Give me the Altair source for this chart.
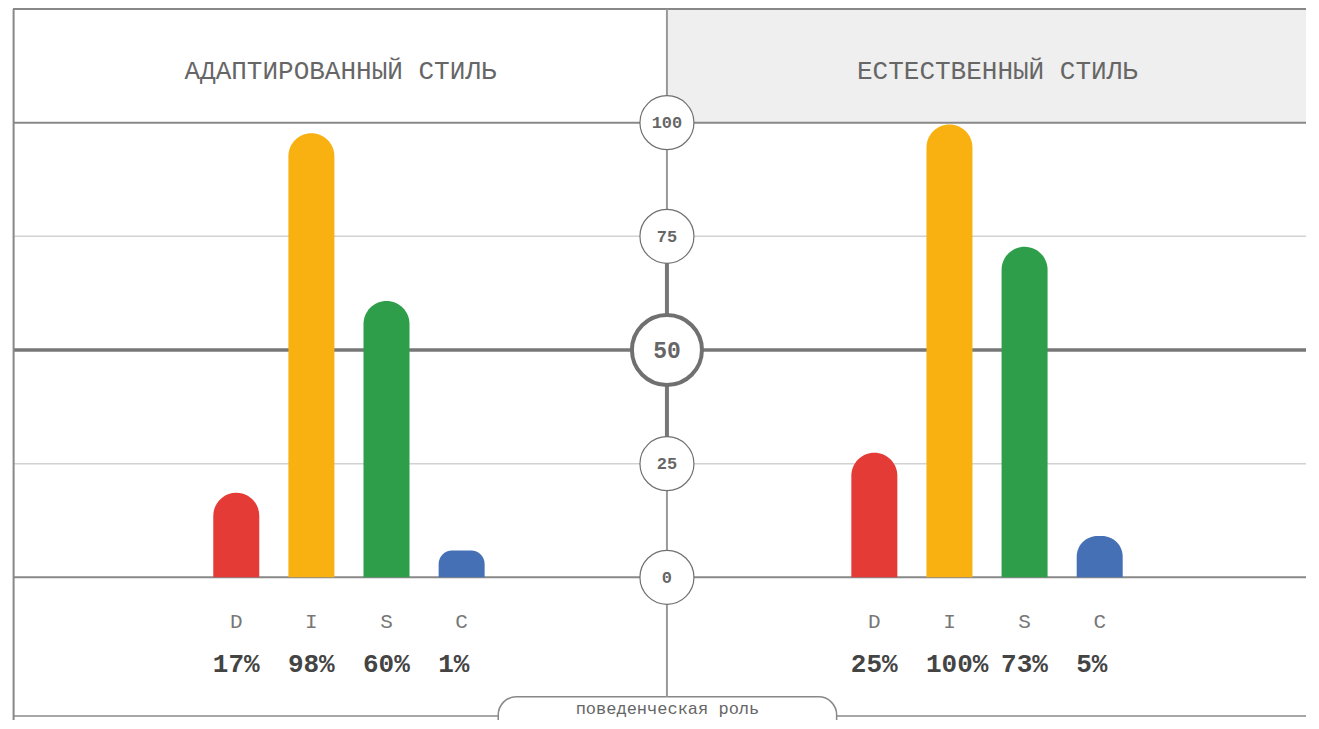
import altair as alt
import pandas as pd

# ---------------- data ----------------
letters = ["D", "I", "S", "C"]
adapted_pct = [17, 98, 60, 1]
natural_pct = [25, 100, 73, 5]
# bar heights as drawn in the picture (scale 0..100)
adapted_bar = [18.6, 97.7, 60.8, 5.9]
natural_bar = [27.4, 99.6, 72.7, 9.1]
disc_colors = ["#E53B37", "#F9B111", "#2E9E4A", "#4570B5"]
scale_ticks = [0, 25, 50, 75, 100]
panel_titles = ["АДАПТИРОВАННЫЙ СТИЛЬ", "ЕСТЕСТВЕННЫЙ СТИЛЬ"]
footer_label = "поведенческая роль"

# ---------------- layout ----------------
W, H = 1303, 712
PPU = 4.546            # pixels per scale unit
ZERO_PX = 569.3        # pixel row of value 0
Y_DOM = [(ZERO_PX - H) / PPU, ZERO_PX / PPU]
TOP = 125.0            # frame top
CENTER = 659
BAR_START = [225, 868]
BAR_STEP = 75.7
HEADER_X = [330, 992]
TAB_TOP = -26.3
BOTTOM_LINE = -30.5
FOOTER_Y = -30.1
FONT = "Liberation Mono"
GREY = "#888888"

xs = alt.Scale(domain=[0, W], nice=False, zero=False)
ys = alt.Scale(domain=Y_DOM, nice=False, zero=False)


def X(f="x"):
    return alt.X(f"{f}:Q", scale=xs, axis=None)


def Y(f="y"):
    return alt.Y(f"{f}:Q", scale=ys, axis=None)


rows = []
for p, (pcts, bars) in enumerate([(adapted_pct, adapted_bar), (natural_pct, natural_bar)]):
    for i, l in enumerate(letters):
        rows.append(dict(panel=p, letter=l, pct=pcts[i], y=bars[i], y2=0,
                         x=BAR_START[p] + i * BAR_STEP,
                         label=(f"{pcts[i]}%").rjust(3, "\u00a0")))
bars_df = pd.DataFrame(rows)

color_scale = alt.Scale(domain=letters, range=disc_colors)

# header fill (right panel)
hdr_fill = alt.Chart(pd.DataFrame([dict(x=CENTER, x2=W, y=100, y2=TOP)])).mark_rect(
    color="#efefef").encode(x=X(), x2="x2:Q", y=Y(), y2="y2:Q")

# horizontal lines
hl = pd.DataFrame([
    dict(y=TOP, c=GREY, w=2.0),
    dict(y=100, c=GREY, w=2.0),
    dict(y=75, c="#d2d2d2", w=1.5),
    dict(y=50, c="#777777", w=3.5),
    dict(y=25, c="#d2d2d2", w=1.5),
    dict(y=0, c=GREY, w=2.0),
    dict(y=BOTTOM_LINE, c=GREY, w=1.5),
])
hl["x"] = 0
hl["x2"] = W
hlines = alt.Chart(hl).mark_rule().encode(
    x=X(), x2="x2:Q", y=Y(),
    color=alt.Color("c:N", scale=None),
    strokeWidth=alt.StrokeWidth("w:Q", scale=None))

# vertical lines
vl = pd.DataFrame([
    dict(x=0.6, y=TOP, y2=Y_DOM[0], c=GREY, w=2.0),
    dict(x=CENTER, y=TOP, y2=TAB_TOP, c="#999999", w=2.0),
    dict(x=CENTER, y=75, y2=25, c="#777777", w=4.0),
])
vlines = alt.Chart(vl).mark_rule().encode(
    x=X(), y=Y(), y2="y2:Q",
    color=alt.Color("c:N", scale=None),
    strokeWidth=alt.StrokeWidth("w:Q", scale=None))

# bottom tab
tab = alt.Chart(pd.DataFrame([dict(x=CENTER - 170, x2=CENTER + 171, y=TAB_TOP, y2=Y_DOM[0] - 10)])).mark_rect(
    fill="white", stroke=GREY, strokeWidth=1.5,
    cornerRadiusTopLeft=18, cornerRadiusTopRight=18).encode(
    x=X(), x2="x2:Q", y=Y(), y2="y2:Q")

footer = alt.Chart(pd.DataFrame([dict(x=CENTER + 0.5, y=FOOTER_Y, t=footer_label)])).mark_text(
    font=FONT, fontSize=17, color="#666666", align="center", baseline="alphabetic").encode(
    x=X(), y=Y(), text="t:N")

# bars
bars = alt.Chart(bars_df).mark_bar(
    size=46, cornerRadiusTopLeft=23, cornerRadiusTopRight=23).encode(
    x=X(), y=Y(), y2="y2:Q",
    color=alt.Color("letter:N", scale=color_scale, legend=None))

# scale circles
tick_df = pd.DataFrame(dict(y=scale_ticks, x=CENTER, t=[str(v) for v in scale_ticks]))
small = tick_df[tick_df.y != 50]
big = tick_df[tick_df.y == 50]
circles_small = alt.Chart(small).mark_circle(
    fill="white", stroke="#707070", strokeWidth=1.2, opacity=1, size=2916).encode(x=X(), y=Y())
circle_big = alt.Chart(big).mark_circle(
    fill="white", stroke="#707070", strokeWidth=4, opacity=1, size=4900).encode(x=X(), y=Y())
labels_small = alt.Chart(small).mark_text(
    font=FONT, fontSize=17, fontWeight="bold", color="#666666", align="center",
    baseline="alphabetic", dy=5.5).encode(x=X(), y=Y(), text="t:N")
label_big = alt.Chart(big).mark_text(
    font=FONT, fontSize=23, fontWeight="bold", color="#666666", align="center",
    baseline="alphabetic", dy=8).encode(x=X(), y=Y(), text="t:N")

# header titles
hdr_df = pd.DataFrame(dict(x=HEADER_X, y=[109.6, 109.6], t=panel_titles))
headers = alt.Chart(hdr_df).mark_text(
    font=FONT, fontSize=26, color="#666666", align="center", baseline="alphabetic").encode(
    x=X(), y=Y(), text="t:N")

# letter and percent labels
letter_txt = alt.Chart(bars_df).transform_calculate(ly="-11.1").mark_text(
    font=FONT, fontSize=21, color="#777777", align="center", baseline="alphabetic").encode(
    x=X(), y=Y("ly"), text="letter:N")
pct_txt = alt.Chart(bars_df).transform_calculate(ly="-20.8").mark_text(
    font=FONT, fontSize=26, fontWeight="bold", color="#444444", align="left",
    baseline="alphabetic", dx=-23.5).encode(
    x=X(), y=Y("ly"), text="label:N")

chart = alt.layer(
    hdr_fill, hlines, tab, vlines, bars, circles_small, circle_big,
    labels_small, label_big, headers, letter_txt, pct_txt, footer
).properties(
    width=W, height=H, padding=0, autosize="none", background="white"
).configure_view(stroke=None)

chart.save("out.html", embed_options={"renderer": "svg", "actions": False})
